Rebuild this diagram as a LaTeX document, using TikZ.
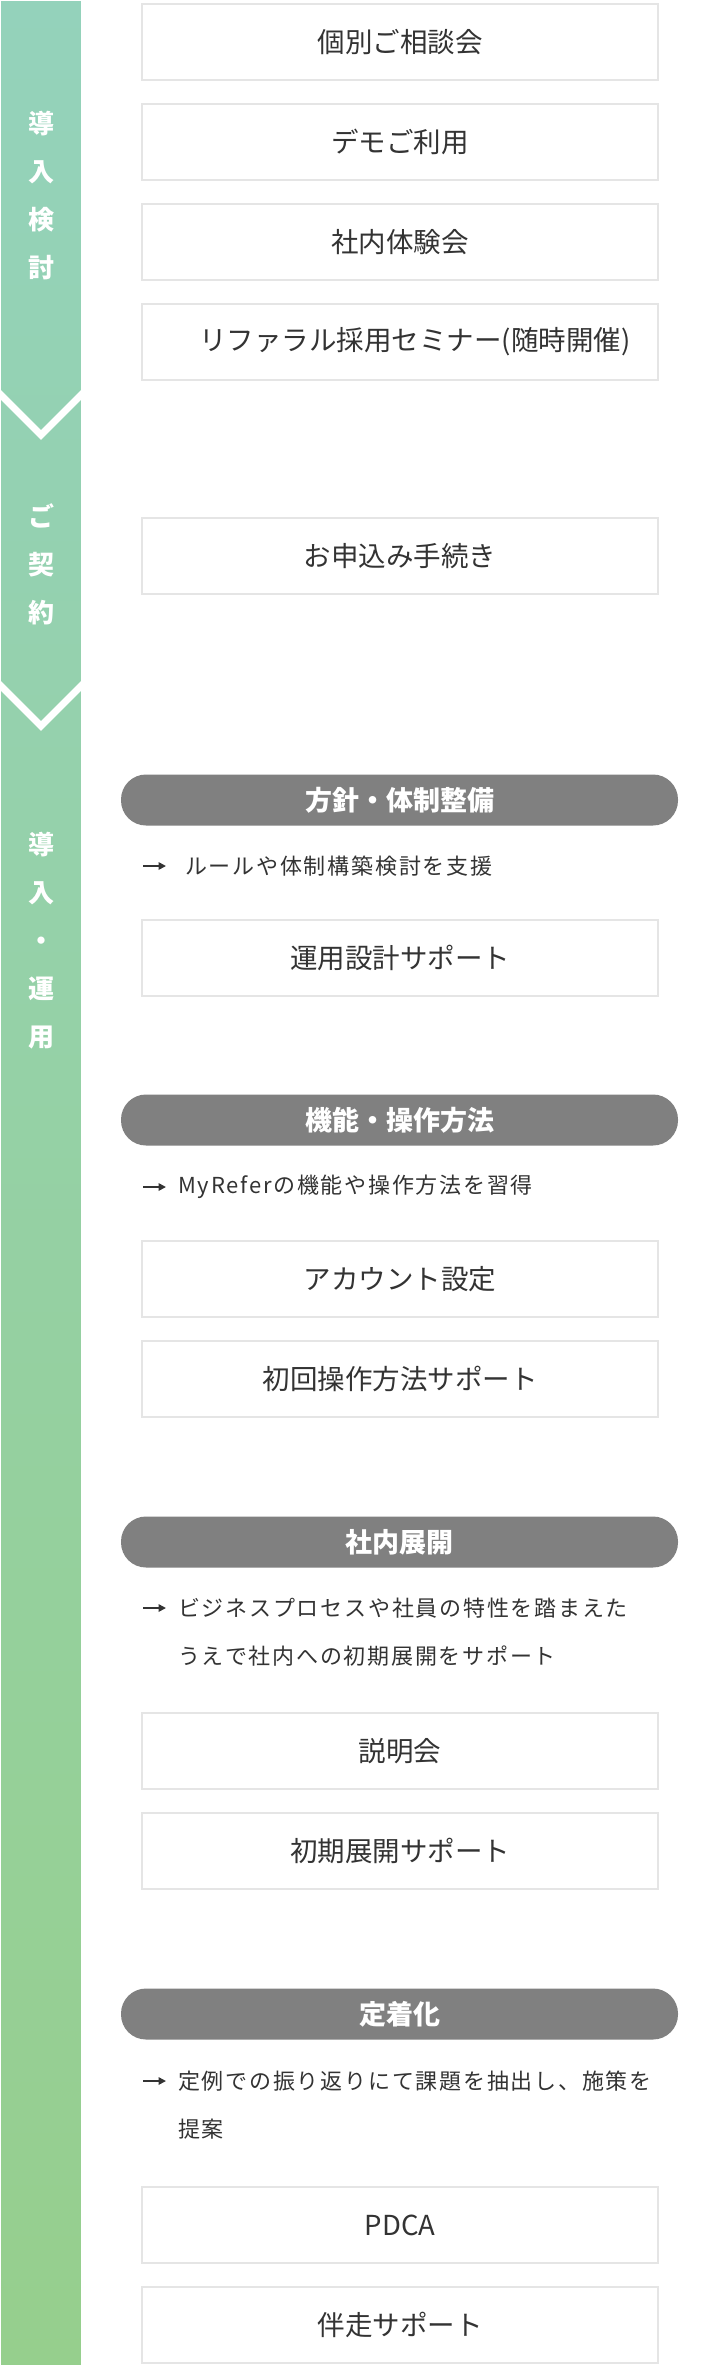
\documentclass[tikz,border=0pt]{standalone}
\usepackage{fontspec}
\usetikzlibrary{arrows.meta}
\setmainfont{Noto Sans CJK JP}
\definecolor{barTop}{RGB}{148,210,187}
\definecolor{barBot}{RGB}{150,207,141}
\definecolor{boxgray}{RGB}{229,229,229}
\definecolor{pillgray}{RGB}{128,128,128}
\definecolor{txt}{RGB}{51,51,51}
\begin{document}
\begin{tikzpicture}[x=1pt,y=-1pt,
  box/.style={draw=boxgray, line width=2pt, fill=white, minimum width=516pt, minimum height=76pt, inner sep=0pt, text=txt, font=\fontsize{27.5}{33}\selectfont},
  pill/.style={fill=pillgray, rounded corners=25pt, minimum width=557pt, minimum height=51pt, inner sep=0pt, text=white, font=\bfseries\fontsize{27}{32}\selectfont},
  desc/.style={anchor=west, inner sep=0pt, text=txt, align=left, font=\fontsize{22}{48}\selectfont\addfontfeature{LetterSpace=8}},
  arrline/.style={draw=txt, line width=1.7pt, -{Triangle[length=7.5pt,width=7.5pt]}},
  barlbl/.style={text=white, align=center, inner sep=0pt, font=\bfseries\fontsize{26}{48}\selectfont},
  chev/.style={draw=white, line width=7pt, line join=miter}
]
\useasboundingbox (0,0) rectangle (720,2368);
% left bar
\shade[top color=barTop, bottom color=barBot] (1,2) rectangle (81,2364);
\coordinate (c1l) at (-4,390); \coordinate (c1m) at (41,435); \coordinate (c1r) at (86,390);
\draw[chev] (c1l) -- (c1m) -- (c1r);
\coordinate (c2l) at (-4,681); \coordinate (c2m) at (41,726); \coordinate (c2r) at (86,681);
\draw[chev] (c2l) -- (c2m) -- (c2r);
\fill[white] (-10,0) rectangle (1,2368);
\fill[white] (81,0) rectangle (100,2368);
\node[barlbl] (s1) at (41,196) {導\\入\\検\\討};
\node[barlbl] (s2) at (41,564) {ご\\契\\約};
\node[barlbl] (s3) at (41,941) {導\\入\\・\\運\\用};
% phase 1
\node[box] (b1) at (400,42) {個別ご相談会};
\node[box] (b2) at (400,142) {デモご利用};
\node[box] (b3) at (400,242) {社内体験会};
\node[box] (b4) at (400,342) {\hspace*{30pt}リファラル採用セミナー(随時開催)};
% phase 2
\node[box] (b5) at (400,556) {お申込み手続き};
% phase 3
\node[pill] (p1) at (399.5,800) {方針・体制整備};
\coordinate (a1s) at (143,866); \coordinate (a1e) at (166,866);
\draw[arrline] (a1s) -- (a1e);
\node[desc] (d1) at (185,866) {ルールや体制構築検討を支援};
\node[box] (b6) at (400,958) {運用設計サポート};

\node[pill] (p2) at (399.5,1120) {機能・操作方法};
\coordinate (a2s) at (143,1187); \coordinate (a2e) at (166,1187);
\draw[arrline] (a2s) -- (a2e);
\node[desc] (d2) at (178,1187) {MyReferの機能や操作方法を習得};
\node[box] (b7) at (400,1279) {アカウント設定};
\node[box] (b8) at (400,1379) {初回操作方法サポート};

\node[pill] (p3) at (399.5,1542) {社内展開};
\coordinate (a3s) at (143,1608); \coordinate (a3e) at (166,1608);
\draw[arrline] (a3s) -- (a3e);
\node[desc] (d3) at (178,1632) {ビジネスプロセスや社員の特性を踏まえた\\うえで社内への初期展開をサポート};
\node[box] (b9) at (400,1751) {説明会};
\node[box] (b10) at (400,1851) {初期展開サポート};

\node[pill] (p4) at (399.5,2014) {定着化};
\coordinate (a4s) at (143,2081); \coordinate (a4e) at (166,2081);
\draw[arrline] (a4s) -- (a4e);
\node[desc] (d4) at (178,2105) {定例での振り返りにて課題を抽出し、施策を\\提案};
\node[box] (b11) at (400,2225) {PDCA};
\node[box] (b12) at (400,2325) {伴走サポート};
\end{tikzpicture}
\end{document}
